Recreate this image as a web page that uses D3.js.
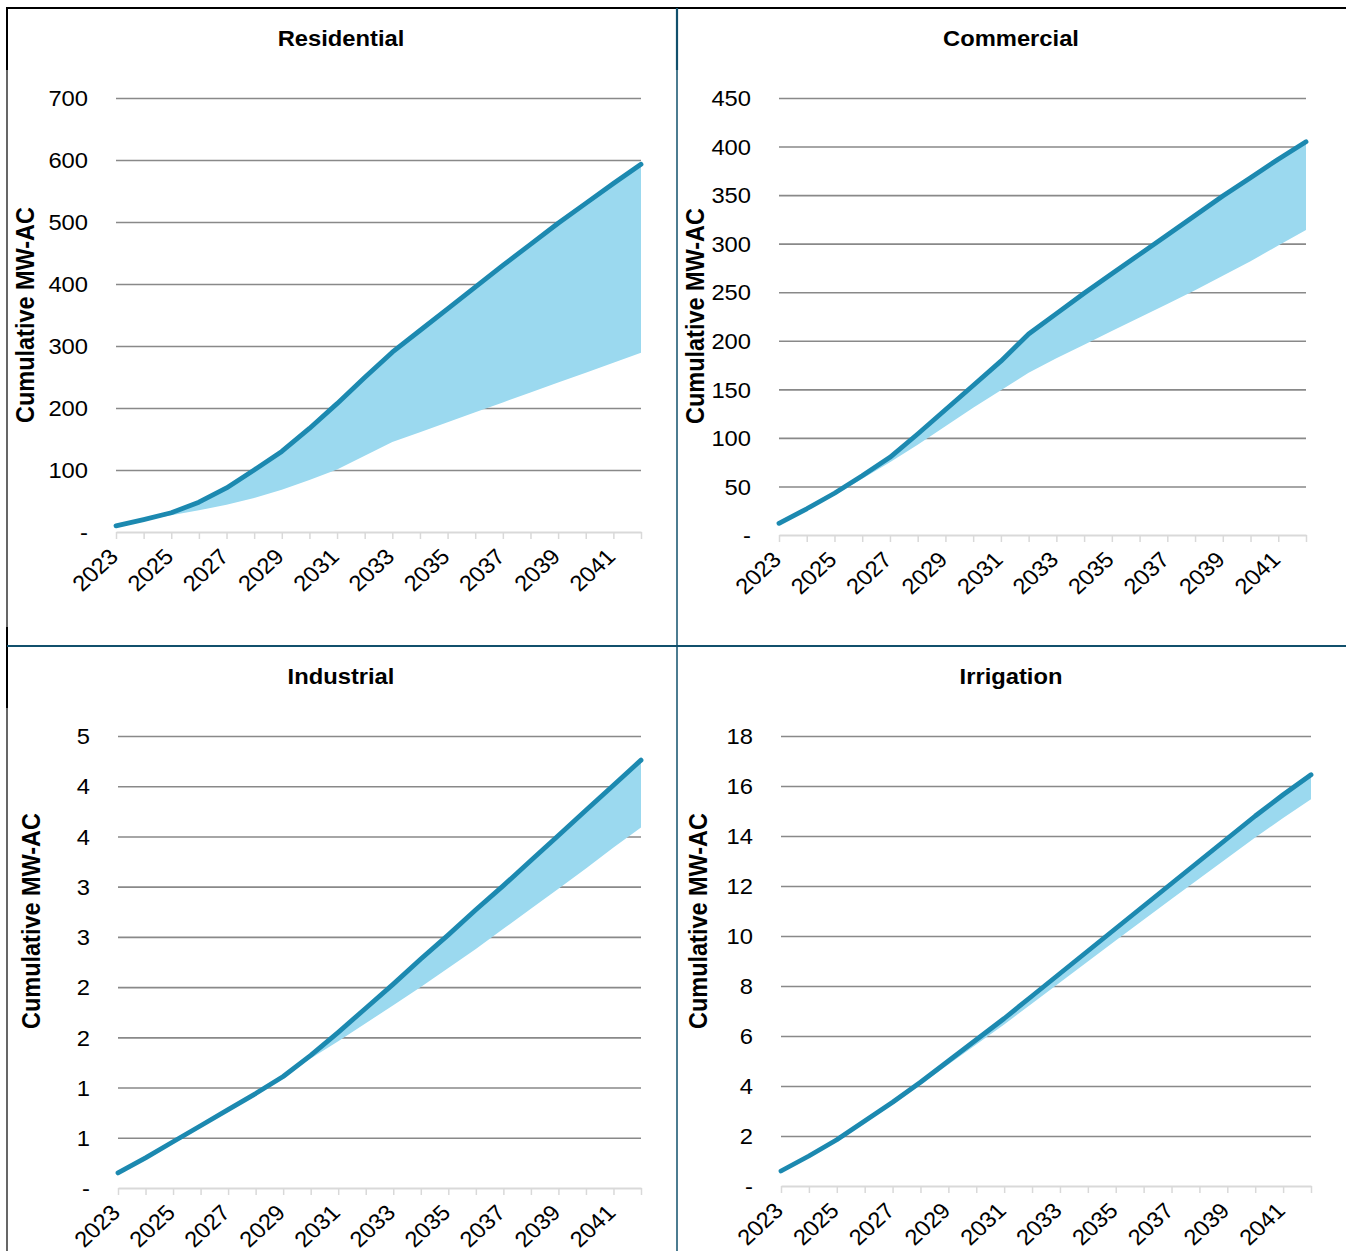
<!DOCTYPE html>
<html>
<head>
<meta charset="utf-8">
<script src="https://cdn.jsdelivr.net/npm/d3@7"></script>
<style>
  html, body { margin: 0; padding: 0; background: #fff; }
  svg { display: block; }
  text { font-family: "Liberation Sans", Arial, sans-serif; fill: #000; }
</style>
</head>
<body>
<svg id="chart" width="1346" height="1251"></svg>
<script>
// ---------- DATA ----------
const years = ["2023","2024","2025","2026","2027","2028","2029","2030","2031","2032",
               "2033","2034","2035","2036","2037","2038","2039","2040","2041","2042"];
const panelTitles = ["Residential", "Commercial", "Industrial", "Irrigation"];
const yAxisTitle = "Cumulative MW-AC";

const residentialHigh = [10,20,31,48,71,100,130,167,207,249,290,325,360,395,430,464,498,530,562,593];
const residentialLow  = [10,19,27,35,44,55,68,84,101,123,145,161,177,193,209,225,241,257,273,289];

const commercialHigh = [12,27,43,61,80,104,129,154,179,207,228,249,269,289,309,329,349,368,387,405];
const commercialLow  = [12,27,41,58,75,93,112,131,149,167,182,196,210,224,238,252,267,282,298,314];

const industrialHigh = [0.15,0.30,0.46,0.62,0.78,0.94,1.11,1.32,1.55,1.79,2.03,2.28,2.52,2.77,3.01,3.26,3.51,3.76,4.01,4.26];
const industrialLow  = [0.15,0.30,0.46,0.62,0.78,0.94,1.11,1.29,1.46,1.64,1.82,2.00,2.19,2.38,2.58,2.78,2.98,3.18,3.39,3.59];

const irrigationHigh = [0.6,1.2,1.85,2.6,3.35,4.15,5.0,5.85,6.7,7.6,8.5,9.4,10.3,11.2,12.1,13.0,13.9,14.8,15.65,16.45];
const irrigationLow  = [0.6,1.2,1.85,2.57,3.29,4.05,4.86,5.66,6.46,7.3,8.14,8.98,9.82,10.65,11.48,12.3,13.12,13.94,14.72,15.47];

const residentialTicks = [0,100,200,300,400,500,600,700];
const residentialTickLabels = ["-","100","200","300","400","500","600","700"];
const commercialTicks = [0,50,100,150,200,250,300,350,400,450];
const commercialTickLabels = ["-","50","100","150","200","250","300","350","400","450"];
const industrialTicks = [0,0.5,1,1.5,2,2.5,3,3.5,4,4.5];
const industrialTickLabels = ["-","1","1","2","2","3","3","4","4","5"];
const irrigationTicks = [0,2,4,6,8,10,12,14,16,18];
const irrigationTickLabels = ["-","2","4","6","8","10","12","14","16","18"];
const xLabelYears = ["2023","2025","2027","2029","2031","2033","2035","2037","2039","2041"];

// ---------- LAYOUT ----------
const SX = 1.08; // slight horizontal text stretch seen in the reference
const COL_LINE = "#1c89b0";
const COL_AREA = "#9bd9ef";
const COL_GRID = "#898989";
const COL_AXIS = "#d9d9d9";
const COL_FRAME = "#11506c";

const svg = d3.select("#chart");

const panels = [
  { title: panelTitles[0], high: residentialHigh, low: residentialLow, ticks: residentialTicks, labels: residentialTickLabels,
    x0: 116, x1: 641, yTop: 98, yBot: 532, titleX: 341, titleY: 38, ylabX: 25, ylabY: 315 },
  { title: panelTitles[1], high: commercialHigh, low: commercialLow, ticks: commercialTicks, labels: commercialTickLabels,
    x0: 779, x1: 1306, yTop: 98, yBot: 535, titleX: 1011, titleY: 38, ylabX: 695, ylabY: 316 },
  { title: panelTitles[2], high: industrialHigh, low: industrialLow, ticks: industrialTicks, labels: industrialTickLabels,
    x0: 118, x1: 641, yTop: 736, yBot: 1188, titleX: 341, titleY: 676, ylabX: 31, ylabY: 921 },
  { title: panelTitles[3], high: irrigationHigh, low: irrigationLow, ticks: irrigationTicks, labels: irrigationTickLabels,
    x0: 781, x1: 1311, yTop: 736, yBot: 1186, titleX: 1011, titleY: 676, ylabX: 698, ylabY: 921 }
];

panels.forEach(p => {
  const g = svg.append("g");
  const x = d3.scalePoint().domain(years).range([p.x0, p.x1]);
  const y = d3.scaleLinear().domain([p.ticks[0], p.ticks[p.ticks.length - 1]]).range([p.yBot, p.yTop]);

  // gridlines + y tick labels
  const yAxis = d3.axisLeft(y)
    .tickValues(p.ticks.slice(1))
    .tickSize(-(p.x1 - p.x0))
    .tickFormat((d) => p.labels[p.ticks.indexOf(d)]);
  const ya = g.append("g").attr("transform", `translate(${p.x0},0)`).call(yAxis);
  ya.select(".domain").remove();
  ya.selectAll(".tick line").attr("stroke", COL_GRID).attr("stroke-width", 1.6);
  ya.selectAll(".tick text")
    .attr("x", null).attr("dy", null)
    .attr("text-anchor", "end")
    .attr("dominant-baseline", "central")
    .attr("transform", `translate(-28,0) scale(${SX},1)`)
    .style("font-size", "22px");
  // zero label "-"
  g.append("text")
    .attr("text-anchor", "end")
    .attr("dominant-baseline", "central")
    .attr("transform", `translate(${p.x0 - 28},${y(0)}) scale(${SX},1)`)
    .style("font-size", "22px")
    .text(p.labels[0]);

  // x axis
  const xAxis = d3.axisBottom(x)
    .tickValues(years)
    .tickSize(7)
    .tickSizeOuter(0)
    .tickFormat(d => xLabelYears.includes(d) ? d : "");
  const xa = g.append("g").attr("transform", `translate(0,${p.yBot})`).call(xAxis);
  xa.select(".domain").attr("stroke", COL_AXIS).attr("stroke-width", 2);
  xa.selectAll(".tick line").attr("stroke", COL_AXIS).attr("stroke-width", 1.5);
  xa.selectAll(".tick text")
    .attr("x", null).attr("y", null).attr("dy", null)
    .attr("text-anchor", "end")
    .attr("fill", "#000")
    .attr("transform", `translate(3,26) scale(${SX},1) rotate(-45)`)
    .style("font-size", "22px");

  // band area
  const idx = d3.range(years.length);
  const area = d3.area()
    .x(i => x(years[i]))
    .y0(i => y(p.low[i]))
    .y1(i => y(p.high[i]));
  g.append("path").datum(idx).attr("d", area).attr("fill", COL_AREA);

  // high line
  const line = d3.line().x(i => x(years[i])).y(i => y(p.high[i]));
  g.append("path").datum(idx).attr("d", line)
    .attr("fill", "none").attr("stroke", COL_LINE).attr("stroke-width", 4.8)
    .attr("stroke-linejoin", "round").attr("stroke-linecap", "round");

  // title
  g.append("text")
    .attr("text-anchor", "middle")
    .attr("dominant-baseline", "central")
    .attr("transform", `translate(${p.titleX},${p.titleY}) scale(${SX},1)`)
    .style("font-size", "22px").style("font-weight", "bold")
    .text(p.title);

  // y axis title
  g.append("text")
    .attr("text-anchor", "middle")
    .attr("dominant-baseline", "central")
    .attr("transform", `translate(${p.ylabX},${p.ylabY}) scale(${SX},1) rotate(-90)`)
    .style("font-size", "23.5px").style("font-weight", "bold")
    .text(yAxisTitle);
});

// ---------- FRAME ----------
const frame = svg.append("g");
frame.append("line").attr("x1", 6).attr("x2", 1346).attr("y1", 8).attr("y2", 8)
  .attr("stroke", "#000").attr("stroke-width", 2);
frame.append("line").attr("x1", 7).attr("x2", 7).attr("y1", 8).attr("y2", 1251)
  .attr("stroke", "#000").attr("stroke-width", 1.2);
frame.append("line").attr("x1", 7).attr("x2", 7).attr("y1", 8).attr("y2", 70)
  .attr("stroke", "#000").attr("stroke-width", 2);
frame.append("line").attr("x1", 7).attr("x2", 7).attr("y1", 627).attr("y2", 708)
  .attr("stroke", "#000").attr("stroke-width", 2);
frame.append("line").attr("x1", 677).attr("x2", 677).attr("y1", 8).attr("y2", 1251)
  .attr("stroke", COL_FRAME).attr("stroke-width", 1.5);
frame.append("line").attr("x1", 677).attr("x2", 677).attr("y1", 8).attr("y2", 70)
  .attr("stroke", COL_FRAME).attr("stroke-width", 2.2);
frame.append("line").attr("x1", 7).attr("x2", 1346).attr("y1", 646).attr("y2", 646)
  .attr("stroke", COL_FRAME).attr("stroke-width", 2);
</script>
</body>
</html>
